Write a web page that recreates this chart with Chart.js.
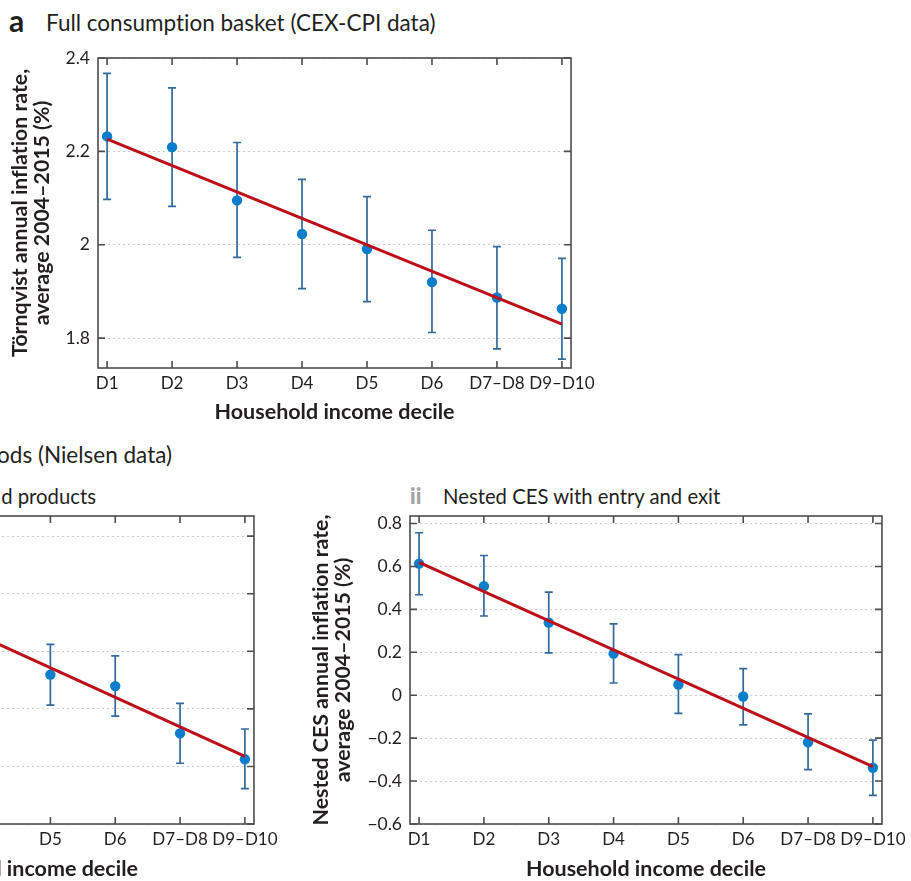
<!DOCTYPE html>
<html>
<head>
<meta charset="utf-8">
<script src="https://cdn.jsdelivr.net/npm/chart.js@4.4.0/dist/chart.umd.min.js"></script>
<style>
  body { margin:0; width:911px; height:881px; overflow:hidden; position:relative; background:#fff; font-family:Lato, sans-serif; color:#231f20; font-variant-ligatures:none; }
  canvas, .t { position:absolute; }
  .t { white-space:nowrap; line-height:1; }
</style>
</head>
<body>
<div class="t" style="left:9px;top:5px;font-size:30px;font-weight:bold;">a</div>
<div class="t" style="left:46px;top:11.5px;font-size:22.5px;">Full consumption basket (CEX-CPI data)</div>
<div class="t" style="right:739px;top:443.5px;font-size:22.5px;">ods (Nielsen data)</div>
<div class="t" style="right:815px;top:486px;font-size:20.3px;">d products</div>
<div class="t" style="left:410px;top:484.5px;font-size:22px;font-weight:900;color:#a3a3a3;">ii</div>
<div class="t" style="left:443px;top:486px;font-size:20.3px;">Nested CES with entry and exit</div>
<canvas id="ca" width="600" height="430" style="left:0;top:0"></canvas>
<canvas id="cbi" width="611" height="411" style="left:-328px;top:470px"></canvas>
<canvas id="cbii" width="611" height="411" style="left:300px;top:470px"></canvas>
<script>
const deciles = ['D1', 'D2', 'D3', 'D4', 'D5', 'D6', 'D7–D8', 'D9–D10'];

// a: Törnqvist, CEX-CPI
const aMean = [2.232, 2.209, 2.095, 2.023, 1.991, 1.920, 1.887, 1.863];
const aLow  = [2.097, 2.082, 1.973, 1.906, 1.878, 1.812, 1.777, 1.755];
const aHigh = [2.367, 2.336, 2.219, 2.140, 2.103, 2.031, 1.996, 1.971];
const aFit  = [2.226, 1.830];
const aTicks = [2.4, 2.2, 2.0, 1.8];
const aTickLabels = ['2.4', '2.2', '2', '1.8'];

// b-i: only D5 .. D9–D10 are visible in the crop
const biMean = [null, null, null, null, 1.119, 1.079, 0.915, 0.825];
const biLow  = [null, null, null, null, 1.013, 0.975, 0.811, 0.723];
const biHigh = [null, null, null, null, 1.224, 1.184, 1.019, 0.930];
const biFit  = [1.553, 0.835];
const biTicks = [1.6, 1.4, 1.2, 1.0, 0.8, 0.6];

// b-ii: nested CES with entry and exit
const biiMean = [0.613, 0.508, 0.338, 0.194, 0.050, -0.006, -0.219, -0.338];
const biiLow  = [0.468, 0.369, 0.197, 0.057, -0.085, -0.138, -0.347, -0.467];
const biiHigh = [0.757, 0.651, 0.480, 0.332, 0.189, 0.124, -0.087, -0.209];
const biiFit  = [0.619, -0.333];
const biiTicks = [0.8, 0.6, 0.4, 0.2, 0, -0.2, -0.4, -0.6];
const biiTickLabels = ['0.8', '0.6', '0.4', '0.2', '0', '−0.2', '−0.4', '−0.6'];

const textColor = '#231f20';
const frameColor = '#4d4d4d';

function makePanel(id, p) {
  const pts = p.mean.map((v, i) => v == null ? null : {x: i, y: v}).filter(d => d);

  // error bars under the points, then the box and inward ticks on top
  const decor = {
    id: 'decor',
    beforeDatasetsDraw(chart) {
      const {ctx, scales: {x, y}} = chart;
      ctx.save();
      ctx.strokeStyle = '#33699a';
      ctx.lineWidth = 1.7;
      ctx.beginPath();
      p.low.forEach((lo, i) => {
        const hi = p.high[i];
        if (lo == null || hi == null) return;
        const px = x.getPixelForValue(i);
        const y0 = y.getPixelForValue(lo), y1 = y.getPixelForValue(hi);
        ctx.moveTo(px, y0); ctx.lineTo(px, y1);
        ctx.moveTo(px - 4, y0); ctx.lineTo(px + 4, y0);
        ctx.moveTo(px - 4, y1); ctx.lineTo(px + 4, y1);
      });
      ctx.stroke();
      ctx.restore();
    },
    afterDraw(chart) {
      const {ctx, chartArea: a, scales: {x, y}} = chart;
      ctx.save();
      ctx.strokeStyle = frameColor;
      ctx.lineWidth = 1.6;
      ctx.strokeRect(a.left, a.top, a.width, a.height);
      ctx.beginPath();
      x.ticks.forEach(t => {
        const px = x.getPixelForValue(t.value);
        ctx.moveTo(px, a.bottom); ctx.lineTo(px, a.bottom - 7);
        ctx.moveTo(px, a.top); ctx.lineTo(px, a.top + 7);
      });
      y.ticks.forEach(t => {
        const py = y.getPixelForValue(t.value);
        ctx.moveTo(a.left, py); ctx.lineTo(a.left + 7, py);
        ctx.moveTo(a.right, py); ctx.lineTo(a.right - 7, py);
      });
      ctx.stroke();
      ctx.restore();
    }
  };

  return new Chart(document.getElementById(id), {
    type: 'scatter',
    data: {
      datasets: [
        {
          type: 'line',
          data: [{x: 0, y: p.fit[0]}, {x: deciles.length - 1, y: p.fit[1]}],
          borderColor: '#bd0f19',
          borderWidth: 3,
          pointRadius: 0,
          order: 0
        },
        {
          data: pts,
          pointRadius: 5.2,
          pointBackgroundColor: '#0a7dcb',
          pointBorderWidth: 0,
          order: 1
        }
      ]
    },
    options: {
      responsive: false,
      animation: false,
      events: [],
      layout: {padding: p.pad},
      plugins: {legend: {display: false}, tooltip: {enabled: false}},
      scales: {
        x: {
          type: 'linear',
          min: -0.14,
          max: 7.14,
          afterFit: s => { s.height = p.xh; },
          afterBuildTicks: s => { s.ticks = deciles.map((d, i) => ({value: i})); },
          grid: {display: false, drawTicks: false},
          border: {display: false},
          ticks: {
            autoSkip: false, maxRotation: 0, padding: 5, color: textColor,
            font: {family: 'Lato', size: 17},
            callback: (v, i) => deciles[i]
          },
          title: {
            display: true, text: 'Household income decile', color: textColor,
            font: {family: 'Lato', size: 21.5, weight: 'bold', lineHeight: 1.1},
            padding: {top: 0, bottom: p.xTitlePad}
          }
        },
        y: {
          min: p.ymin,
          max: p.ymax,
          afterFit: s => { s.width = p.yw; },
          afterBuildTicks: s => { s.ticks = p.ticks.map(v => ({value: v})); },
          grid: {color: '#cccccc', lineWidth: 1, drawTicks: false},
          border: {display: false, dash: [2, 3]},
          ticks: {
            display: p.tickLabels != null, padding: 8, color: textColor,
            font: {family: 'Lato', size: 17.5},
            callback: (v, i) => p.tickLabels ? p.tickLabels[i] : ''
          },
          title: {
            display: p.yTitle != null, text: p.yTitle || '', color: textColor,
            font: {family: 'Lato', size: 21.3, weight: 'bold', lineHeight: 1.04},
            padding: {top: p.yTitlePad, bottom: 0}
          }
        }
      }
    },
    plugins: [decor]
  });
}

makePanel('ca', {
  mean: aMean, low: aLow, high: aHigh, fit: aFit,
  ticks: aTicks, tickLabels: aTickLabels, ymin: 1.736, ymax: 2.4,
  pad: {top: 58, right: 22, left: 0, bottom: 0}, yw: 98, xh: 62, xTitlePad: 6,
  yTitle: ['Törnqvist annual inflation rate,', 'average 2004–2015 (%)'], yTitlePad: 9
});

makePanel('cbi', {
  mean: biMean, low: biLow, high: biHigh, fit: biFit,
  ticks: biTicks, tickLabels: null, ymin: 0.6, ymax: 1.67,
  pad: {top: 46, right: 24, left: 0, bottom: 0}, yw: 110, xh: 57, xTitlePad: 0,
  yTitle: null, yTitlePad: 12
});

makePanel('cbii', {
  mean: biiMean, low: biiLow, high: biiHigh, fit: biiFit,
  ticks: biiTicks, tickLabels: biiTickLabels, ymin: -0.6, ymax: 0.835,
  pad: {top: 46, right: 24, left: 0, bottom: 0}, yw: 110, xh: 57, xTitlePad: 0,
  yTitle: ['Nested CES annual inflation rate,', 'average 2004–2015 (%)'], yTitlePad: 10
});
</script>
</body>
</html>
